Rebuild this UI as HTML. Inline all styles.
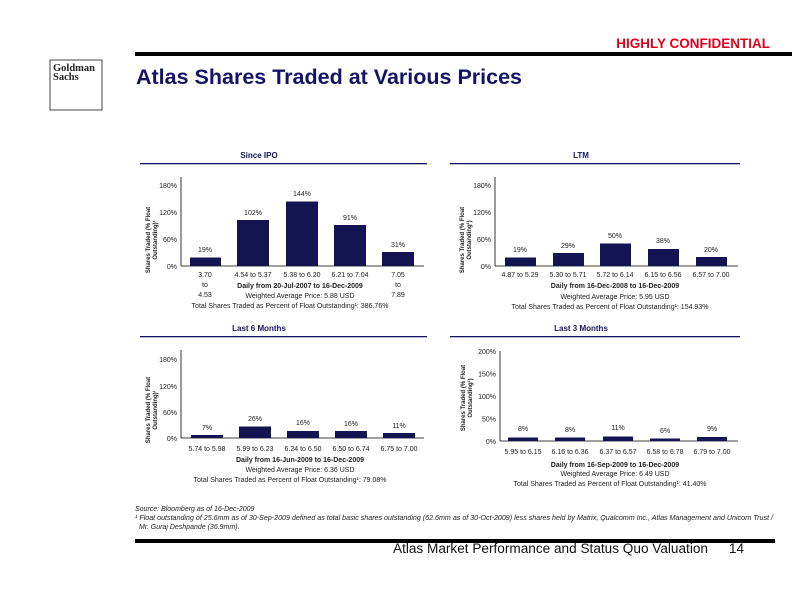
<!DOCTYPE html>
<html><head><meta charset="utf-8"><style>
body{margin:0;background:#fff;}
svg{display:block;font-family:"Liberation Sans",Arial,sans-serif;}
</style></head><body>
<svg width="792" height="612" viewBox="0 0 792 612" xmlns="http://www.w3.org/2000/svg">
<text x="770" y="48" text-anchor="end" font-size="13.5" font-weight="bold" fill="#e0001b">HIGHLY CONFIDENTIAL</text>
<rect x="135" y="52" width="657" height="4" fill="#000"/>
<rect x="50" y="60" width="52" height="50" fill="#fff" stroke="#444" stroke-width="1"/>
<text x="53" y="71" font-family="Liberation Serif,serif" font-size="10.5" font-weight="bold" fill="#222">Goldman</text>
<text x="53" y="80" font-family="Liberation Serif,serif" font-size="10.5" font-weight="bold" fill="#222">Sachs</text>
<text x="136" y="84" font-size="21.5" font-weight="bold" fill="#141466">Atlas Shares Traded at Various Prices</text>

<g font-size="7" fill="#222">
<!-- Chart 1 -->
<text x="259" y="158" text-anchor="middle" font-size="8" font-weight="bold" fill="#141466">Since IPO</text>
<rect x="140" y="163" width="287" height="1.3" fill="#141466"/>
<line x1="181" y1="177" x2="181" y2="266" stroke="#000" stroke-width="0.8"/>
<line x1="181" y1="266" x2="424" y2="266" stroke="#000" stroke-width="0.8"/>
<text x="177" y="188" text-anchor="end">180%</text><text x="177" y="215" text-anchor="end">120%</text><text x="177" y="242" text-anchor="end">60%</text><text x="177" y="269" text-anchor="end">0%</text>
<text transform="translate(150,240) rotate(-90)" text-anchor="middle" font-size="6" font-weight="bold">Shares Traded (% Float</text>
<text transform="translate(157,240) rotate(-90)" text-anchor="middle" font-size="6" font-weight="bold">Outstanding)¹</text>
<g fill="#141452">
<rect x="190" y="257.5" width="31" height="8.5"/><rect x="237" y="220" width="32" height="46"/><rect x="286" y="201.5" width="32" height="64.5"/><rect x="334" y="225" width="32" height="41"/><rect x="382" y="252" width="32" height="14"/>
</g>
<text x="205" y="252" text-anchor="middle">19%</text><text x="253" y="215" text-anchor="middle">102%</text><text x="302" y="196" text-anchor="middle">144%</text><text x="350" y="220" text-anchor="middle">91%</text><text x="398" y="247" text-anchor="middle">31%</text>
<text x="205" y="277" text-anchor="middle">3.70</text><text x="205" y="287" text-anchor="middle">to</text><text x="205" y="297" text-anchor="middle">4.53</text>
<text x="253" y="277" text-anchor="middle">4.54 to 5.37</text><text x="302" y="277" text-anchor="middle">5.38 to 6.20</text><text x="350" y="277" text-anchor="middle">6.21 to 7.04</text>
<text x="398" y="277" text-anchor="middle">7.05</text><text x="398" y="287" text-anchor="middle">to</text><text x="398" y="297" text-anchor="middle">7.89</text>
<text x="300" y="288" text-anchor="middle" font-weight="bold">Daily from 20-Jul-2007 to 16-Dec-2009</text>
<text x="300" y="298" text-anchor="middle">Weighted Average Price: 5.88 USD</text>
<text x="290" y="308" text-anchor="middle">Total Shares Traded as Percent of Float Outstanding¹: 386.76%</text>

<!-- Chart 2 -->
<text x="581" y="158" text-anchor="middle" font-size="8" font-weight="bold" fill="#141466">LTM</text>
<rect x="450" y="163" width="290" height="1.3" fill="#141466"/>
<line x1="495" y1="177" x2="495" y2="266" stroke="#000" stroke-width="0.8"/>
<line x1="495" y1="266" x2="738" y2="266" stroke="#000" stroke-width="0.8"/>
<text x="491" y="188" text-anchor="end">180%</text><text x="491" y="215" text-anchor="end">120%</text><text x="491" y="242" text-anchor="end">60%</text><text x="491" y="269" text-anchor="end">0%</text>
<text transform="translate(464,240) rotate(-90)" text-anchor="middle" font-size="6" font-weight="bold">Shares Traded (% Float</text>
<text transform="translate(471,240) rotate(-90)" text-anchor="middle" font-size="6" font-weight="bold">Outstanding¹)</text>
<g fill="#141452">
<rect x="505" y="257.5" width="31" height="8.5"/><rect x="553" y="253" width="31" height="13"/><rect x="600" y="243.5" width="31" height="22.5"/><rect x="648" y="249" width="31" height="17"/><rect x="696" y="257" width="31" height="9"/>
</g>
<text x="520" y="252" text-anchor="middle">19%</text><text x="568" y="248" text-anchor="middle">29%</text><text x="615" y="238" text-anchor="middle">50%</text><text x="663" y="243" text-anchor="middle">38%</text><text x="711" y="252" text-anchor="middle">20%</text>
<text x="520" y="277" text-anchor="middle">4.87 to 5.29</text><text x="568" y="277" text-anchor="middle">5.30 to 5.71</text><text x="615" y="277" text-anchor="middle">5.72 to 6.14</text><text x="663" y="277" text-anchor="middle">6.15 to 6.56</text><text x="711" y="277" text-anchor="middle">6.57 to 7.00</text>
<text x="615" y="288" text-anchor="middle" font-weight="bold">Daily from 16-Dec-2008 to 16-Dec-2009</text>
<text x="615" y="299" text-anchor="middle">Weighted Average Price: 5.95 USD</text>
<text x="610" y="309" text-anchor="middle">Total Shares Traded as Percent of Float Outstanding¹: 154.93%</text>

<!-- Chart 3 -->
<text x="259" y="331" text-anchor="middle" font-size="8" font-weight="bold" fill="#141466">Last 6 Months</text>
<rect x="140" y="336" width="287" height="1.3" fill="#141466"/>
<line x1="181" y1="350" x2="181" y2="438" stroke="#000" stroke-width="0.8"/>
<line x1="181" y1="438" x2="424" y2="438" stroke="#000" stroke-width="0.8"/>
<text x="177" y="362" text-anchor="end">180%</text><text x="177" y="389" text-anchor="end">120%</text><text x="177" y="415" text-anchor="end">60%</text><text x="177" y="441" text-anchor="end">0%</text>
<text transform="translate(150,410) rotate(-90)" text-anchor="middle" font-size="6" font-weight="bold">Shares Traded (% Float</text>
<text transform="translate(157,410) rotate(-90)" text-anchor="middle" font-size="6" font-weight="bold">Outstanding)¹</text>
<g fill="#141452">
<rect x="191" y="435" width="32" height="3"/><rect x="239" y="426.5" width="32" height="11.5"/><rect x="287" y="431" width="32" height="7"/><rect x="335" y="431" width="32" height="7"/><rect x="383" y="433" width="32" height="5"/>
</g>
<text x="207" y="430" text-anchor="middle">7%</text><text x="255" y="421" text-anchor="middle">26%</text><text x="303" y="425" text-anchor="middle">16%</text><text x="351" y="426" text-anchor="middle">16%</text><text x="399" y="428" text-anchor="middle">11%</text>
<text x="207" y="451" text-anchor="middle">5.74 to 5.98</text><text x="255" y="451" text-anchor="middle">5.99 to 6.23</text><text x="303" y="451" text-anchor="middle">6.24 to 6.50</text><text x="351" y="451" text-anchor="middle">6.50 to 6.74</text><text x="399" y="451" text-anchor="middle">6.75 to 7.00</text>
<text x="300" y="462" text-anchor="middle" font-weight="bold">Daily from 16-Jun-2009 to 16-Dec-2009</text>
<text x="300" y="472" text-anchor="middle">Weighted Average Price: 6.36 USD</text>
<text x="290" y="482" text-anchor="middle">Total Shares Traded as Percent of Float Outstanding¹: 79.08%</text>

<!-- Chart 4 -->
<text x="581" y="331" text-anchor="middle" font-size="8" font-weight="bold" fill="#141466">Last 3 Months</text>
<rect x="450" y="336" width="290" height="1.3" fill="#141466"/>
<line x1="500" y1="351" x2="500" y2="441" stroke="#000" stroke-width="0.8"/>
<line x1="500" y1="441" x2="738" y2="441" stroke="#000" stroke-width="0.8"/>
<text x="496" y="354" text-anchor="end">200%</text><text x="496" y="376.5" text-anchor="end">150%</text><text x="496" y="399" text-anchor="end">100%</text><text x="496" y="421.5" text-anchor="end">50%</text><text x="496" y="444" text-anchor="end">0%</text>
<text transform="translate(465,398) rotate(-90)" text-anchor="middle" font-size="6" font-weight="bold">Shares Traded  (% Float</text>
<text transform="translate(472,398) rotate(-90)" text-anchor="middle" font-size="6" font-weight="bold">Outstanding¹)</text>
<g fill="#141452">
<rect x="508" y="437.5" width="30" height="3.5"/><rect x="555" y="437.5" width="30" height="3.5"/><rect x="603" y="436.5" width="30" height="4.5"/><rect x="650" y="438.5" width="30" height="2.5"/><rect x="697" y="437" width="30" height="4"/>
</g>
<text x="523" y="431" text-anchor="middle">8%</text><text x="570" y="432" text-anchor="middle">8%</text><text x="618" y="430" text-anchor="middle">11%</text><text x="665" y="433" text-anchor="middle">6%</text><text x="712" y="431" text-anchor="middle">9%</text>
<text x="523" y="454" text-anchor="middle">5.95 to 6.15</text><text x="570" y="454" text-anchor="middle">6.16 to 6.36</text><text x="618" y="454" text-anchor="middle">6.37 to 6.57</text><text x="665" y="454" text-anchor="middle">6.58 to 6.78</text><text x="712" y="454" text-anchor="middle">6.79 to 7.00</text>
<text x="615" y="467" text-anchor="middle" font-weight="bold">Daily from 16-Sep-2009 to 16-Dec-2009</text>
<text x="615" y="476" text-anchor="middle">Weighted Average Price: 6.49 USD</text>
<text x="610" y="486" text-anchor="middle">Total Shares Traded as Percent of Float Outstanding¹: 41.40%</text>
</g>

<g font-size="7" font-style="italic" fill="#222">
<text x="135" y="511">Source: Bloomberg as of 16-Dec-2009</text>
<text x="135" y="520" textLength="638" lengthAdjust="spacingAndGlyphs">¹ Float outstanding of 25.6mm as of 30-Sep-2009 defined as total basic shares outstanding (62.6mm as of 30-Oct-2009) less shares held by Matrix, Qualcomm Inc., Atlas Management and Unicorn Trust /</text>
<text x="139" y="529">Mr. Guraj Deshpande (36.9mm).</text>
</g>
<rect x="135" y="539" width="640" height="4" fill="#000"/>
<text x="708" y="553" text-anchor="end" font-size="13.5" fill="#111" textLength="315" lengthAdjust="spacingAndGlyphs">Atlas Market Performance and Status Quo Valuation</text>
<text x="744" y="553" text-anchor="end" font-size="13.5" fill="#111">14</text>
</svg>
</body></html>
